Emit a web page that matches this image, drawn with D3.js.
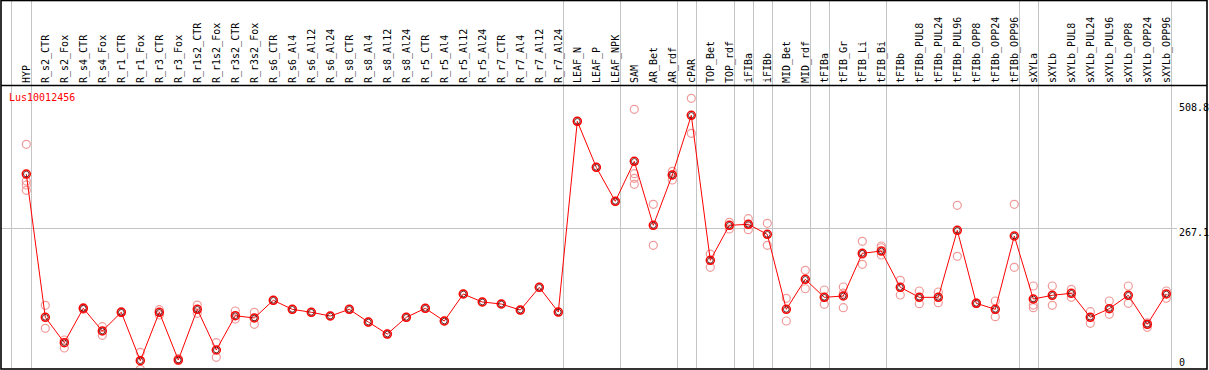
<!DOCTYPE html>
<html>
<head>
<meta charset="utf-8">
<script src="https://cdn.jsdelivr.net/npm/d3@7"></script>
<style>
  body { margin: 0; background: #fff; }
  svg { display: block; }
  text { font-family: "DejaVu Sans Mono", monospace; font-size: 10px; }
</style>
</head>
<body>
<svg width="1209" height="370"></svg>
<script>
const gene = "Lus10012456";

const categories = [
  "HYP", "R_s2_CTR", "R_s2_Fox", "R_s4_CTR", "R_s4_Fox", "R_r1_CTR", "R_r1_Fox",
  "R_r3_CTR", "R_r3_Fox", "R_r1s2_CTR", "R_r1s2_Fox", "R_r3s2_CTR", "R_r3s2_Fox",
  "R_s6_CTR", "R_s6_Al4", "R_s6_Al12", "R_s6_Al24", "R_s8_CTR", "R_s8_Al4",
  "R_s8_Al12", "R_s8_Al24", "R_r5_CTR", "R_r5_Al4", "R_r5_Al12", "R_r5_Al24",
  "R_r7_CTR", "R_r7_Al4", "R_r7_Al12", "R_r7_Al24", "LEAF_N", "LEAF_P", "LEAF_NPK",
  "SAM", "AR_Bet", "AR_rdf", "cPAR", "TOP_Bet", "TOP_rdf", "iFIBa", "iFIBb",
  "MID_Bet", "MID_rdf", "tFIBa", "tFIB_Gr", "tFIB_Li", "tFIB_Bi", "tFIBb",
  "tFIBb_PUL8", "tFIBb_PUL24", "tFIBb_PUL96", "tFIBb_OPP8", "tFIBb_OPP24", "tFIBb_OPP96",
  "sXYLa", "sXYLb", "sXYLb_PUL8", "sXYLb_PUL24", "sXYLb_PUL96", "sXYLb_OPP8",
  "sXYLb_OPP24", "sXYLb_OPP96"
];

// mean expression per sample
const means = [
  368.0, 101.7, 54.5, 118.4, 76.2, 111.0, 21.0, 111.0, 22.3, 116.5, 40.9, 104.6, 100.4,
  133.3, 116.5, 111.0, 104.1, 116.5, 92.9, 70.6, 101.7, 118.4, 94.8, 145.0, 130.1,
  126.4, 115.2, 157.4, 111.5, 466.0, 380.5, 317.3, 391.6, 272.7, 366.2, 477.1,
  207.6, 272.7, 274.5, 255.9, 116.5, 172.3, 138.8, 141.3, 220.6, 224.9, 157.4,
  138.8, 138.8, 263.4, 127.7, 116.5, 252.8, 135.7, 142.6, 146.3, 101.7, 117.7,
  142.6, 88.7, 145.0
];

// individual replicates per sample
const replicates = [
  [423.2, 355.0, 347.6, 337.7], [124.0, 81.2], [59.5, 44.6], [119.5, 116.5], [84.2, 68.2],
  [112.1, 110.2], [36.6, 5.0], [115.8, 106.0], [24.8, 21.0], [124.5, 109.1], [54.5, 27.3],
  [113.4, 98.5], [111.0, 88.7], [133.3], [116.5], [111.0], [104.1], [116.5], [92.9],
  [70.6], [101.7], [118.4], [94.8], [145.0], [130.1], [126.4], [115.2], [157.4], [111.5],
  [466.0], [380.5], [317.3], [488.3, 368.6, 360.0, 348.9], [311.7, 235.5],
  [373.0, 366.2, 356.9], [508.8, 443.7], [219.3, 194.6], [278.2, 265.8],
  [285.0, 274.5, 264.5], [276.4, 235.5], [137.0, 94.8], [189.0, 154.8],
  [152.4, 138.8, 125.8], [158.0, 146.5, 119.5], [242.9, 218.5, 200.2],
  [234.2, 231.0, 217.5], [170.4, 143.1], [150.6, 127.0], [148.7, 128.8], [309.9, 215.1],
  [128.5, 127.0], [132.0, 102.8], [311.7, 194.6], [159.9, 124.5, 119.5], [159.9, 124.0],
  [153.7, 138.8], [112.1, 90.5], [132.0, 107.2], [159.9, 127.7], [91.6, 83.1],
  [150.6, 137.0]
];

// samples after which a group separator is drawn
const groupEnds = ["HYP", "R_r7_Al24", "LEAF_NPK", "AR_rdf", "cPAR", "TOP_rdf", "iFIBa",
  "iFIBb", "MID_rdf", "tFIBa", "tFIB_Bi", "tFIBb_OPP96", "sXYLa", "sXYLb_OPP96"];

const yTicks = [508.8, 267.1, 0];
const gridValue = 267.1;

const svg = d3.select("svg"),
  W = +svg.attr("width"),
  H = +svg.attr("height"),
  headerBottom = 85,
  plotBottom = 368.5;

const x = d3.scalePoint().domain(categories).range([26.3, 1166.3]);
const y = d3.scaleLinear().domain([0, 508.8]).range([372, 98.3]);

svg.append("defs").append("clipPath").attr("id", "plotclip")
  .append("rect").attr("x", 1).attr("y", headerBottom).attr("width", W - 3).attr("height", plotBottom - headerBottom);

// separators
const seps = [x(categories[0]) - 15.6].concat(groupEnds.map((c) => x(c) + 4.4));
svg.append("g").selectAll("line")
  .data(seps)
  .enter()
  .append("line")
  .attr("x1", (d) => Math.round(d) + 0.5)
  .attr("x2", (d) => Math.round(d) + 0.5)
  .attr("y1", 0)
  .attr("y2", plotBottom)
  .attr("stroke", "#c4c4c4")
  .attr("stroke-width", 1);

// horizontal grid line
svg.append("line")
  .attr("x1", 1)
  .attr("x2", 1177)
  .attr("y1", Math.round(y(gridValue)) + 0.5)
  .attr("y2", Math.round(y(gridValue)) + 0.5)
  .attr("stroke", "#c4c4c4");

// header labels
svg.append("g").selectAll("text")
  .data(categories)
  .enter()
  .append("text")
  .attr("transform", (d) => `translate(${x(d) + 4},83) rotate(-90)`)
  .attr("fill", "#000")
  .text((d) => d);

// y labels
svg.append("g").selectAll("text")
  .data(yTicks)
  .enter()
  .append("text")
  .attr("x", 1179)
  .attr("y", (d) => Math.max(110.5, Math.min(365.5, y(d) + 8)))
  .attr("fill", "#000")
  .text((d) => d);

svg.append("text")
  .attr("x", 9)
  .attr("y", 101)
  .attr("fill", "red")
  .text(gene);

const plot = svg.append("g").attr("clip-path", "url(#plotclip)");

const reps = categories.flatMap((c, i) => replicates[i].map((v) => ({ c, v })));
plot.selectAll(".rep")
  .data(reps)
  .enter()
  .append("circle")
  .attr("class", "rep")
  .attr("cx", (d) => x(d.c))
  .attr("cy", (d) => y(d.v))
  .attr("r", 4)
  .attr("fill", "none")
  .attr("stroke", "#f09a9a")
  .attr("stroke-width", 1.2);

const line = d3.line()
  .x((d, i) => x(categories[i]))
  .y((d) => y(d));

plot.append("path")
  .datum(means)
  .attr("d", line)
  .attr("fill", "none")
  .attr("stroke", "red")
  .attr("stroke-width", 1);

plot.selectAll(".mean")
  .data(means)
  .enter()
  .append("circle")
  .attr("class", "mean")
  .attr("cx", (d, i) => x(categories[i]))
  .attr("cy", (d) => y(d))
  .attr("r", 4)
  .attr("fill", "none")
  .attr("stroke", "red")
  .attr("stroke-width", 1.5);

plot.selectAll(".meanin")
  .data(means)
  .enter()
  .append("circle")
  .attr("class", "meanin")
  .attr("cx", (d, i) => x(categories[i]))
  .attr("cy", (d) => y(d))
  .attr("r", 2.8)
  .attr("fill", "none")
  .attr("stroke", "#400")
  .attr("stroke-width", 0.8);

// frame
svg.append("line").attr("x1", 1).attr("x2", W - 2).attr("y1", headerBottom + 0.5).attr("y2", headerBottom + 0.5)
  .attr("stroke", "#000").attr("stroke-width", 1.5);
svg.append("rect")
  .attr("x", 1).attr("y", 0.5)
  .attr("width", W - 3).attr("height", plotBottom)
  .attr("fill", "none")
  .attr("stroke", "#000")
  .attr("stroke-width", 1.6);
</script>
</body>
</html>
